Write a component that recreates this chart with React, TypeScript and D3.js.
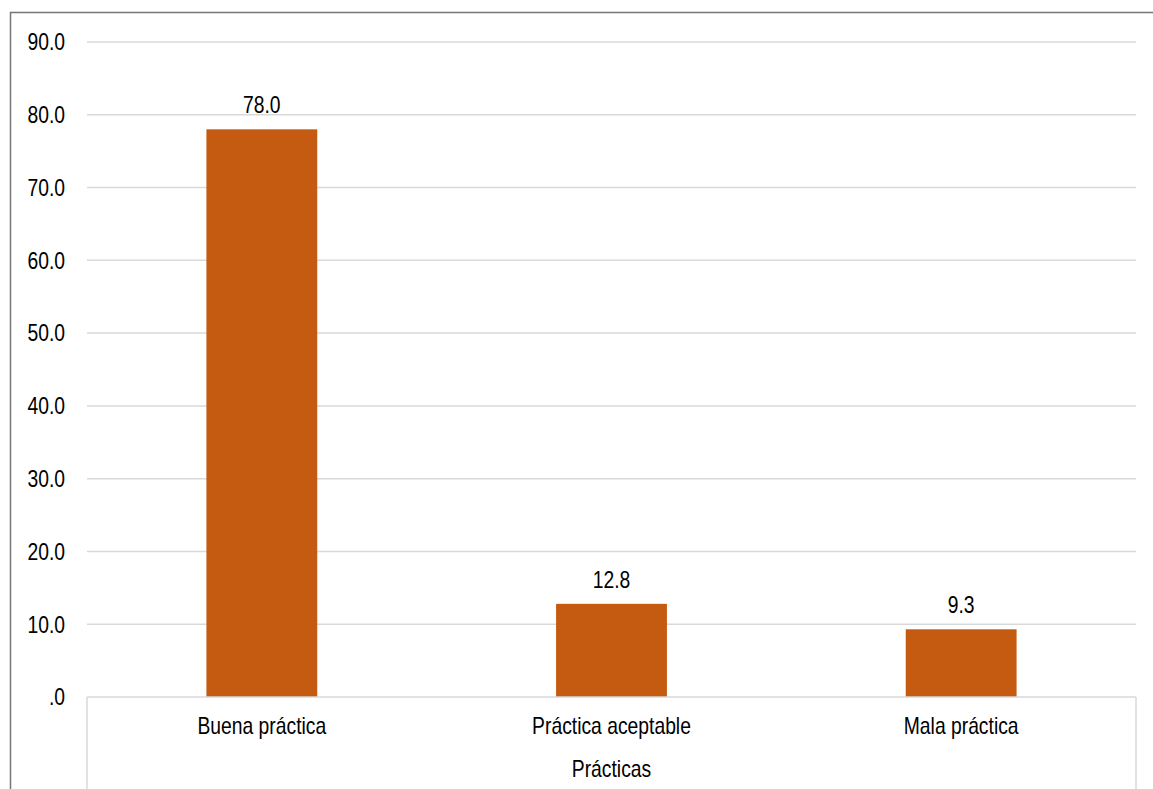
import React from "react";
import * as d3 from "d3";

const categories = ["Buena práctica", "Práctica aceptable", "Mala práctica"];
const values = [78.0, 12.8, 9.3];
const yTicks = [0, 10, 20, 30, 40, 50, 60, 70, 80, 90];
const axisTitle = "Prácticas";

const W = 1153;
const H = 789;
const FONT = "'Liberation Sans', Arial, sans-serif";
const FS = 23;
const NARROW = 0.84;

// Condensed label: regular sans squeezed horizontally around its anchor point
function Label({ x, y, anchor, dy, children }: { x: number; y: number; anchor: string; dy?: string; children: React.ReactNode }) {
  return (
    <text
      transform={`translate(${x},${y}) scale(${NARROW},1)`}
      dy={dy}
      textAnchor={anchor}
      fontSize={FS}
      fill="#000"
    >
      {children}
    </text>
  );
}

export default function App() {
  const left = 87;
  const right = 1136;
  const top = 42;
  const bottom = 697;

  const x = d3.scaleBand<string>().domain(categories).range([left, right]).paddingInner(0.683).paddingOuter(0.3415);
  const y = d3.scaleLinear().domain([0, 90]).range([bottom, top]);

  const fmt = (v: number) => (v === 0 ? ".0" : d3.format(".1f")(v));
  const cx = (c: string) => (x(c) ?? 0) + x.bandwidth() / 2;

  return (
    <svg
      width={W}
      height={H}
      style={{ position: "absolute", left: 0, top: 0, background: "#fff" }}
      fontFamily={FONT}
    >
      <rect x={0} y={0} width={W} height={H} fill="#fff" />
      {/* outer chart frame */}
      <path d={`M10.5,${H} V12.5 H${W}`} fill="none" stroke="#767676" strokeWidth={1.5} />

      {/* horizontal gridlines and value axis labels */}
      {yTicks.map((t) => (
        <g key={t}>
          {t !== 0 && (
            <line x1={left} x2={right} y1={y(t)} y2={y(t)} stroke="#d9d9d9" strokeWidth={1.5} />
          )}
          <Label x={65} y={y(t)} dy="0.36em" anchor="end">
            {fmt(t)}
          </Label>
        </g>
      ))}

      {/* bars */}
      {categories.map((c, i) => (
        <rect key={c} x={x(c)} y={y(values[i])} width={x.bandwidth()} height={y(0) - y(values[i])} fill="#c55a11" />
      ))}

      {/* value labels */}
      {categories.map((c, i) => (
        <Label key={c} x={cx(c)} y={y(values[i]) - 16} anchor="middle">
          {d3.format(".1f")(values[i])}
        </Label>
      ))}

      {/* category axis box */}
      <line x1={left} x2={right} y1={bottom} y2={bottom} stroke="#d9d9d9" strokeWidth={1.5} />
      <line x1={left} x2={left} y1={bottom} y2={H} stroke="#d9d9d9" strokeWidth={1.5} />
      <line x1={right} x2={right} y1={bottom} y2={H} stroke="#d9d9d9" strokeWidth={1.5} />

      {categories.map((c) => (
        <Label key={c} x={cx(c)} y={734} anchor="middle">
          {c}
        </Label>
      ))}
      <Label x={(left + right) / 2} y={777} anchor="middle">
        {axisTitle}
      </Label>
    </svg>
  );
}
